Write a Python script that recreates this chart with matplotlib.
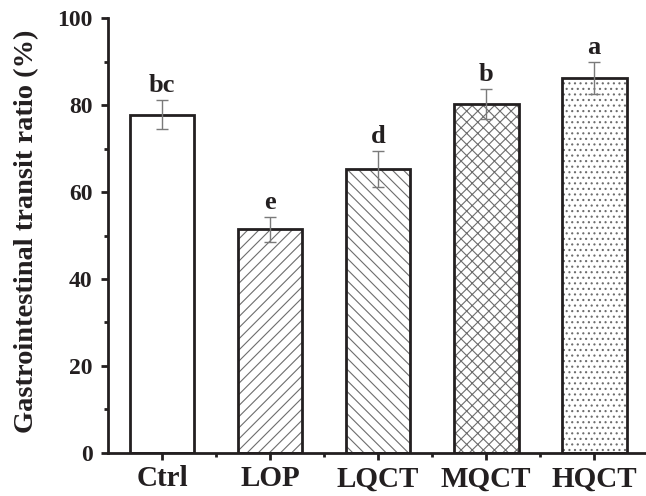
import matplotlib
matplotlib.use("Agg")
import matplotlib.pyplot as plt
import numpy as np

plt.rcParams['font.family'] = ['Liberation Serif', 'DejaVu Serif']
plt.rcParams['font.weight'] = 'bold'
plt.rcParams['hatch.linewidth'] = 0.8

# data
groups = ['Ctrl', 'LOP', 'LQCT', 'MQCT', 'HQCT']
means = [77.8, 51.4, 65.3, 80.2, 86.2]
errors = [3.3, 2.8, 4.2, 3.5, 3.7]
letters = ['bc', 'e', 'd', 'b', 'a']
hatches = ['', '///', '\\\\\\', 'xxx', '...']

dark = '#231f20'
x = np.arange(len(groups))

fig = plt.figure(figsize=(6.46, 4.96), dpi=100)
ax = fig.add_axes([0.1672, 0.0867, 0.8328, 0.877])

# hatch pass (grey hatch lines), then outline pass
ax.bar(x, means, width=0.6, color='white', edgecolor='#6d6d6d',
       hatch=hatches, linewidth=0, zorder=2)
ax.bar(x, means, width=0.6, color='none', edgecolor=dark,
       linewidth=2, zorder=3)
ax.errorbar(x, means, yerr=errors, fmt='none', ecolor='#7a7a7a',
            elinewidth=1, capsize=4, capthick=1, zorder=4)

for xi, m, e, lab in zip(x, means, errors, letters):
    ax.annotate(lab, (xi, m + e), xytext=(0, 2), textcoords='offset points',
                ha='center', va='bottom', fontsize=19, fontweight='bold',
                color=dark)

ax.set_xlim(-0.5, 4.48)
ax.set_ylim(0, 100)
ax.set_xticks(x)
ax.set_xticklabels(groups, fontsize=21, fontweight='bold', color=dark)
ax.set_xticks(x[:-1] + 0.5, minor=True)
ax.set_yticks([0, 20, 40, 60, 80, 100])
ax.set_yticks([10, 30, 50, 70, 90], minor=True)
ax.tick_params(axis='y', labelsize=17, labelcolor=dark)
ax.tick_params(which='major', direction='out', length=5, width=2, color=dark)
ax.tick_params(which='minor', direction='out', length=3, width=2, color=dark)
ax.tick_params(axis='x', which='major', pad=4)
ax.tick_params(axis='y', which='major', pad=6)

for side in ['top', 'right']:
    ax.spines[side].set_visible(False)
for side in ['left', 'bottom']:
    ax.spines[side].set_linewidth(2)
    ax.spines[side].set_color(dark)

ax.set_ylabel('Gastrointestinal transit ratio (%)', fontsize=20.5,
              fontweight='bold', color=dark)
ax.yaxis.set_label_coords(-0.128, 0.51)

fig.savefig('out.png', dpi=100)
